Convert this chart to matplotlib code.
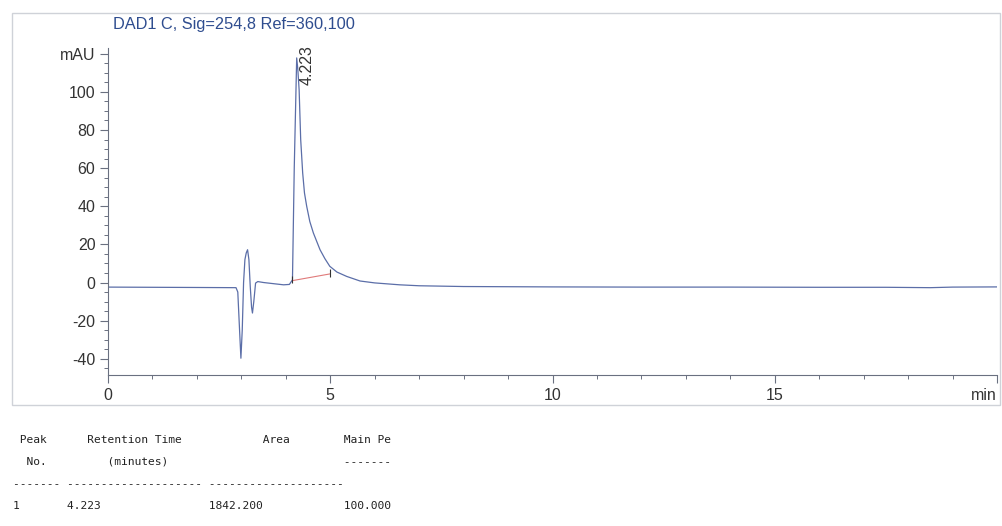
import matplotlib.pyplot as plt
from matplotlib.patches import Rectangle
from matplotlib.ticker import MultipleLocator

# chromatogram trace (min, mAU)
time_min = [0.0, 1.0, 2.0, 2.88, 2.92, 2.96, 2.99, 3.02, 3.05, 3.08, 3.11,
            3.14, 3.17, 3.2, 3.23, 3.25, 3.28, 3.32, 3.37, 3.5, 3.76, 3.95,
            4.08, 4.15, 4.19, 4.245, 4.27, 4.30, 4.335, 4.38, 4.42, 4.47,
            4.54, 4.62, 4.77, 4.88, 4.99, 5.15, 5.37, 5.67, 6.0, 6.56, 7.0,
            8.0, 10.0, 12.0, 14.0, 16.0, 17.5, 18.5, 19.0, 20.0]
signal_mau = [-2.4, -2.5, -2.6, -2.7, -5.0, -25.0, -39.7, -25.0, 0.0, 12.0,
              15.5, 17.2, 12.0, -2.0, -13.0, -16.0, -10.0, -0.3, 0.5, 0.0,
              -0.7, -1.2, -1.0, 1.4, 60.0, 117.8, 112.0, 101.0, 75.0, 57.4,
              47.0, 40.0, 32.0, 26.0, 17.2, 12.5, 8.5, 5.5, 3.2, 0.8, -0.2,
              -1.2, -1.7, -2.1, -2.3, -2.4, -2.4, -2.5, -2.5, -2.7, -2.4, -2.3]

peak_rt = 4.223
peak_top = 117.8
base_t = [4.15, 4.99]
base_v = [1.0, 4.5]

title = "DAD1 C, Sig=254,8 Ref=360,100"

table_lines = [
    " Peak      Retention Time            Area        Main Pe",
    "  No.         (minutes)                          -------",
    "------- -------------------- --------------------",
    "1       4.223                1842.200            100.000",
]


def main():
    fig = plt.figure(figsize=(10.02, 5.26), dpi=100)
    fig.patch.set_facecolor("white")

    # light frame around the plot area
    fig.patches.append(Rectangle((12 / 1002, 1 - 405 / 526), 988 / 1002, 392 / 526,
                                 transform=fig.transFigure, fill=False,
                                 edgecolor="#cfd2d8", linewidth=1.0))

    ax = fig.add_axes([108 / 1002, 1 - 375 / 526, 889 / 1002, 327 / 526])
    ax.plot(time_min, signal_mau, color="#5b6ea8", linewidth=0.9)
    ax.plot(base_t, base_v, color="#e07a7a", linewidth=0.8)
    ax.vlines(base_t, [v - 1.5 for v in base_v], [v + 2.5 for v in base_v],
              color="#333333", linewidth=0.8)

    ax.annotate(f"{peak_rt:.3f}", xy=(peak_rt, peak_top - 14), xytext=(8, 0),
                textcoords="offset points", rotation=90, ha="center", va="bottom",
                fontsize=11.5, color="#333333", family="Liberation Sans",
                annotation_clip=False)

    ax.set_xlim(0, 20)
    ax.set_ylim(-48.5, 123)
    for side in ["top", "right"]:
        ax.spines[side].set_visible(False)
    for side in ["left", "bottom"]:
        ax.spines[side].set_color("#6a7080")
        ax.spines[side].set_linewidth(0.8)

    ax.set_xticks([0, 5, 10, 15, 20])
    ax.set_xticklabels(["0", "5", "10", "15", "min"])
    ax.get_xticklabels()[-1].set_horizontalalignment("right")
    ax.xaxis.set_minor_locator(MultipleLocator(1))
    ax.set_yticks([-40, -20, 0, 20, 40, 60, 80, 100, 120])
    ax.set_yticklabels(["-40", "-20", "0", "20", "40", "60", "80", "100", "mAU"])
    ax.yaxis.set_minor_locator(MultipleLocator(5))

    ax.tick_params(which="major", direction="out", length=6, width=0.8,
                   color="#6a7080", labelsize=11.5, labelcolor="#333333", pad=3)
    ax.tick_params(which="minor", direction="out", length=3, width=0.7,
                   color="#6a7080")
    for lab in ax.get_xticklabels() + ax.get_yticklabels():
        lab.set_family("Liberation Sans")

    fig.text(113 / 1002, 1 - 24 / 526, title, ha="left", va="center",
             fontsize=11.8, color="#2f4d8f", family="Liberation Sans")

    rows_y = [440, 462, 484, 506]
    for line, y in zip(table_lines, rows_y):
        fig.text(13 / 1002, 1 - y / 526, line, ha="left", va="center",
                 fontsize=8.1, color="#222222", family="DejaVu Sans Mono")

    fig.savefig("out.png", dpi=100)


if __name__ == "__main__":
    main()
